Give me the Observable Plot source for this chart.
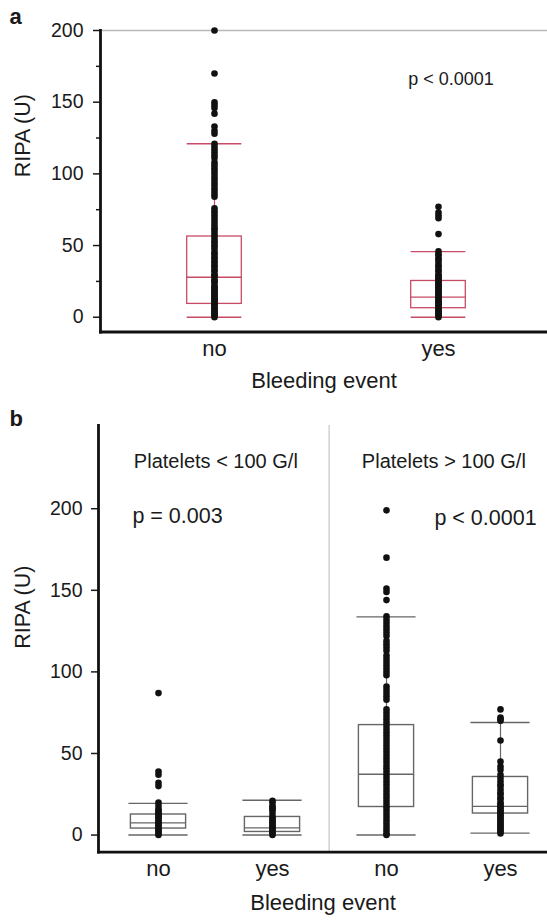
<!DOCTYPE html>
<html>
<head>
<meta charset="utf-8">
<script src="https://cdn.jsdelivr.net/npm/d3@7"></script>
<script src="https://cdn.jsdelivr.net/npm/@observablehq/plot@0.6"></script>
<style>
  html, body { margin: 0; padding: 0; background: #fff; }
  #wrap { position: relative; width: 547px; height: 920px; overflow: hidden; font-family: "Liberation Sans", Arial, Helvetica, sans-serif; color: #1a1a1a; }
  .panel-letter { position: absolute; z-index: 5; font-weight: bold; font-size: 22px; line-height: 22px; }
  #pa { position: absolute; left: 0; top: 0; z-index: 1; }
  #pb { position: absolute; left: 0; top: 400px; z-index: 1; }
</style>
</head>
<body>
<div id="wrap">
  <div id="pa"></div>
  <div id="pb"></div>
  <div class="panel-letter" style="left:9.5px; top:6px;">a</div>
  <div class="panel-letter" style="left:9.5px; top:408px;">b</div>
</div>
<script>
// ---------- Panel a data ----------
const catsA = ["no", "yes"];
const noA = [200, 170, 150, 148, 146, 142, 133, 130, 128,
  121, 119, 117, 115, 113, 111, 108, 106, 104, 102, 100, 98, 96, 94, 92, 90, 88, 86, 84,
  76, 74, 72, 70, 68, 66, 64, 62, 61, 59, 57, 55, 53, 52, 50, 49, 47, 45, 44, 42, 41, 39, 38,
  36, 35, 33, 32, 30, 29, 28, 26, 25, 24, 22, 21, 20, 19, 18, 17, 16, 15, 14, 13, 12, 11, 10,
  9, 8, 7, 6, 5, 4, 3, 2, 1, 0];
const yesA = [77, 73, 71, 69, 58, 46, 44, 43, 41, 40, 38, 36, 35, 33, 32, 30, 29, 28, 27, 26,
  25, 24, 23, 22, 21, 20, 19, 18, 17, 16, 15, 14, 13, 12, 11, 10, 9, 8, 7, 6, 5, 4, 3, 2, 1, 0];
const q1A = [9.3, 6.3];
const medA = [27.9, 14];
const q3A = [56.3, 25.3];
const loA = [0, 0];
const hiA = [121, 45.8];
const majorTicksA = [0, 50, 100, 150, 200];
const minorTicksA = [25, 75, 125, 175];
const yMaxA = [200];
const pTextA = [{cat: "yes", v: 166, label: "p < 0.0001"}];

// ---------- Panel b data ----------
const plateletB = ["< 100", "< 100", "> 100", "> 100"];
const bleedB = ["no", "yes", "no", "yes"];
const lnoB = [87, 39, 37, 32, 30, 20, 18, 16, 15, 14, 13, 12, 11, 10, 9, 8, 7, 6, 5, 4, 3, 2, 1, 0];
const lyesB = [21, 20, 18, 17, 16, 15, 13, 11, 10, 9, 8, 7, 6, 5, 4, 3, 2, 1, 0];
const rnoB = [199, 170, 151, 149, 144, 134, 132, 130, 128, 126, 124, 122, 119, 117, 115, 113,
  110, 108, 106, 104, 102, 100, 98, 91, 89, 87, 85, 83, 77, 75, 73, 71, 69, 67, 65, 63, 61, 59,
  57, 55, 53, 51, 49, 47, 45, 43, 41, 39, 37, 35, 33, 31, 29, 27, 25, 23, 21, 19, 17, 15, 13,
  11, 9, 7, 5, 3, 1, 0];
const ryesB = [77, 72, 71, 70, 58, 45, 42, 40, 37, 35, 33, 31, 30, 28, 26, 25, 23, 22, 20, 19,
  18, 17, 16, 15, 14, 13, 12, 11, 10, 9, 8, 7, 6, 5, 4, 3, 2, 1];
const q1B = [4, 1.9, 17.2, 13.2];
const medB = [7.5, 4.4, 37.3, 17.6];
const q3B = [12.6, 11.1, 67.4, 35.6];
const loB = [0, 0, 0, 1.2];
const hiB = [19.4, 21.3, 133.7, 69];
const majorTicksB = [0, 50, 100, 150, 200];
const facetLabelsB = ["Platelets < 100 G/l", "Platelets > 100 G/l"];
const pLabelsB = ["p = 0.003", "p < 0.0001"];

// ---------- helpers ----------
const FONT = "'Liberation Sans', Arial, Helvetica, sans-serif";
const boxRows = (cats, q1, med, q3, lo, hi) =>
  cats.map((c, i) => ({cat: c, q1: q1[i], med: med[i], q3: q3[i], lo: lo[i], hi: hi[i]}));
const dotRows = (cats, lists) => cats.flatMap((c, i) => lists[i].map(v => ({cat: c, v})));

// ---------- Panel a ----------
const RED = "#c84b66";
const boxesA = boxRows(catsA, q1A, medA, q3A, loA, hiA);
const dotsA = dotRows(catsA, [noA, yesA]);
const insA = 84.7;

const plotA = Plot.plot({
  width: 547, height: 400,
  marginLeft: 100, marginRight: 0, marginTop: 30, marginBottom: 68.5,
  style: {fontFamily: FONT, color: "#1a1a1a", background: "white", overflow: "visible"},
  x: {type: "band", domain: catsA, range: [101.75, 550.85], padding: 0},
  y: {domain: [-10.3, 200]},
  marks: [
    Plot.ruleY(yMaxA, {stroke: "#b8b8b8", strokeWidth: 1.3}),
    Plot.ruleX(boxesA, {x: "cat", y1: "lo", y2: "hi", stroke: RED, strokeWidth: 1.2}),
    Plot.barY(boxesA, {x: "cat", y1: "q1", y2: "q3", fill: "none", stroke: RED, strokeWidth: 1.3, insetLeft: insA, insetRight: insA}),
    Plot.tickY(boxesA, {x: "cat", y: "med", stroke: RED, strokeWidth: 1.3, insetLeft: insA, insetRight: insA}),
    Plot.tickY(boxesA, {x: "cat", y: "lo", stroke: RED, strokeWidth: 1.3, insetLeft: insA, insetRight: insA}),
    Plot.tickY(boxesA, {x: "cat", y: "hi", stroke: RED, strokeWidth: 1.3, insetLeft: insA, insetRight: insA}),
    Plot.dot(dotsA, {x: "cat", y: "v", r: 3.3, fill: "#111", stroke: "none"}),
    Plot.text(pTextA, {x: "cat", y: "v", text: "label", dx: 12.5, fontSize: 18, fill: "#1a1a1a"}),
    Plot.axisY({ticks: majorTicksA, tickSize: 7, tickPadding: 10, fontSize: 19.5, label: null, strokeWidth: 1.5}),
    Plot.axisY({ticks: minorTicksA, tickSize: 4, tickPadding: 0, tickFormat: () => "", label: null, strokeWidth: 1.5}),
    Plot.axisX({tickSize: 0, tickPadding: 8.6, fontSize: 22, label: null}),
    Plot.frame({anchor: "left", stroke: "#111", strokeWidth: 2.8}),
    Plot.frame({anchor: "bottom", stroke: "#111", strokeWidth: 2.8}),
    Plot.text(["RIPA (U)"], {text: d => d, frameAnchor: "left", rotate: -90, dx: -77, dy: -4, fontSize: 21.5, fill: "#1a1a1a"}),
    Plot.text(["Bleeding event"], {text: d => d, frameAnchor: "bottom", dy: 55.5, fontSize: 22, fill: "#1a1a1a"})
  ]
});
document.getElementById("pa").appendChild(plotA);

// ---------- Panel b ----------
const GRAY = "#666";
const keysB = plateletB.map((p, i) => p + "|" + bleedB[i]);
const boxesB = boxRows(keysB, q1B, medB, q3B, loB, hiB);
const dotsB = dotRows(keysB, [lnoB, lyesB, rnoB, ryesB]);
const insB = 29.4;
const halfStepB = 57.35;
const facetRows = [{cat: keysB[0], label: facetLabelsB[0]}, {cat: keysB[2], label: facetLabelsB[1]}];

const plotB = Plot.plot({
  width: 547, height: 520,
  marginLeft: 98, marginRight: 0, marginTop: 25, marginBottom: 68.3,
  style: {fontFamily: FONT, color: "#1a1a1a", background: "white", overflow: "visible"},
  x: {type: "band", domain: keysB, range: [99.7, 558.5], padding: 0},
  y: {domain: [-10.5, 251]},
  marks: [
    Plot.ruleX([keysB[2]], {x: d => d, dx: -halfStepB, stroke: "#d2d2d2", strokeWidth: 1.5}),
    Plot.ruleX(boxesB, {x: "cat", y1: "lo", y2: "hi", stroke: GRAY, strokeWidth: 1.2}),
    Plot.barY(boxesB, {x: "cat", y1: "q1", y2: "q3", fill: "none", stroke: GRAY, strokeWidth: 1.4, insetLeft: insB, insetRight: insB}),
    Plot.tickY(boxesB, {x: "cat", y: "med", stroke: GRAY, strokeWidth: 1.4, insetLeft: insB, insetRight: insB}),
    Plot.tickY(boxesB, {x: "cat", y: "lo", stroke: GRAY, strokeWidth: 1.4, insetLeft: insB - 2, insetRight: insB - 2}),
    Plot.tickY(boxesB, {x: "cat", y: "hi", stroke: GRAY, strokeWidth: 1.4, insetLeft: insB - 2, insetRight: insB - 2}),
    Plot.dot(dotsB, {x: "cat", y: "v", r: 3.3, fill: "#111", stroke: "none"}),
    Plot.text(facetRows, {x: "cat", y: () => 229, text: "label", dx: halfStepB, fontSize: 20, fill: "#1a1a1a"}),
    Plot.text([{cat: keysB[0], label: pLabelsB[0]}], {x: "cat", y: () => 195.3, text: "label", dx: 19, fontSize: 21.5, fill: "#1a1a1a"}),
    Plot.text([{cat: keysB[3], label: pLabelsB[1]}], {x: "cat", y: () => 194.5, text: "label", dx: -15, fontSize: 21.5, fill: "#1a1a1a"}),
    Plot.axisY({ticks: majorTicksB, tickSize: 7, tickPadding: 9, fontSize: 19.5, label: null, strokeWidth: 1.5}),
    Plot.axisX({tickSize: 0, tickPadding: 8.6, fontSize: 22, label: null, tickFormat: d => d.split("|")[1]}),
    Plot.frame({anchor: "left", stroke: "#111", strokeWidth: 2.8}),
    Plot.frame({anchor: "bottom", stroke: "#111", strokeWidth: 2.8}),
    Plot.text(["RIPA (U)"], {text: d => d, frameAnchor: "left", rotate: -90, dx: -75, dy: 10, fontSize: 21.5, fill: "#1a1a1a"}),
    Plot.text(["Bleeding event"], {text: d => d, frameAnchor: "bottom", dy: 58, fontSize: 22, fill: "#1a1a1a"})
  ]
});
document.getElementById("pb").appendChild(plotB);
</script>
</body>
</html>
